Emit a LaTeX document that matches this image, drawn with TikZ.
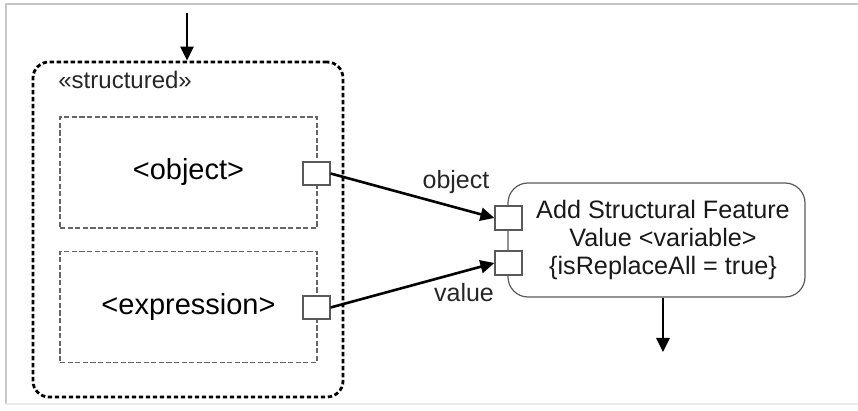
\documentclass[tikz,border=0pt]{standalone}
\usepackage{fontspec}
\setmainfont{Liberation Sans}
\usetikzlibrary{arrows.meta}
\tikzset{
  grp/.style={draw=black,line width=1.4pt,dash pattern=on 2.2pt off 1.3pt,rounded corners=8pt,minimum width=155pt,minimum height=167.5pt,inner sep=0pt},
  reg/.style={draw=black!60,line width=0.7pt,dash pattern=on 2.6pt off 1.2pt,minimum width=128.5pt,minimum height=55.5pt,inner sep=0pt,font=\fontsize{14.5}{16}\selectfont},
  pin/.style={draw=black!65,fill=white,line width=0.6pt,minimum width=13.5pt,minimum height=11.5pt,inner sep=0pt},
  act/.style={draw=black!65,line width=0.6pt,rounded corners=10pt,minimum width=148.5pt,minimum height=57pt,inner sep=0pt},
  lbl/.style={font=\fontsize{12.5}{14}\selectfont,text=black!85,inner sep=0pt},
  ef/.style={-{Triangle[length=7pt,width=6.5pt]},line width=1.3pt,draw=black},
  frm/.style={draw=black!22,line width=0.6pt},
}
\begin{document}
\begin{tikzpicture}[x=0.5pt,y=-0.5pt]
\useasboundingbox (0,0) rectangle (858,411);
% frame of the screenshot
\draw[frm] (6,404) -- (6,4) -- (858,4);
\draw[draw=black!8,line width=0.6pt] (6,404) -- (858,404);
% structured node
\node[grp] (sn) at (188,229.5) {};
\node[lbl,anchor=west,font=\fontsize{12}{14}\selectfont] (st) at (58,80) {«structured»};
\node[reg] (ob) at (188.5,172.5) {<object>};
\node[reg] (ex) at (188.5,307) {\raisebox{-1pt}{<expression>}};
\node[pin] (p_ob) at (316.5,173.5) {};
\node[pin] (p_ex) at (316.5,307.5) {};
% action
\node[act] (asf) at (656.5,240) {};
\node[font=\fontsize{12.6}{14}\selectfont,align=center,inner sep=0pt,text=black!90] (asf_t) at (663,240)
  {Add Structural Feature\\Value <variable>\\\{isReplaceAll = true\}};
\node[pin,minimum height=12pt] (ip_ob) at (508.5,218) {};
\node[pin,minimum height=12pt] (ip_va) at (508.5,263) {};
\node[lbl] (l_ob) at (456,182) {object};
\node[lbl] (l_va) at (464,293) {value};
% flows
\coordinate (top) at (187,13);
\coordinate (bot) at (663,352);
\draw[ef] (top) -- (top |- sn.north);
\draw[ef] (p_ob.east) -- (ip_ob.west);
\draw[ef] (p_ex.east) -- (ip_va.west);
\draw[ef] (asf.south -| bot) -- (bot);
\end{tikzpicture}
\end{document}
